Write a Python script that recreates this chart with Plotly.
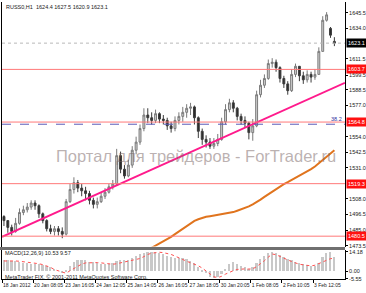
import plotly.graph_objects as go

# ---------------- data ----------------
bar_idx = list(range(86))
opens = [1495,1492,1487,1484,1490,1498,1500,1502,1505,1503,
         1497,1492,1486,1484,1486,1484,1482,1506,1515,1520,
         1516,1514,1512,1507,1504,1506,1510,1513,1517,1519,
         1540,1530,1525,1533,1544,1550,1560,1570,1568,1566,
         1571,1567,1566,1562,1560,1566,1569,1572,1575,1576,
         1568,1558,1552,1550,1547,1549,1552,1565,1574,1579,
         1575,1569,1566,1564,1557,1562,1585,1592,1597,1608,
         1609,1605,1597,1593,1588,1600,1606,1599,1596,1600,
         1598,1600,1617,1640,1634,1624.4]
highs = [1496,1492,1489,1494,1501,1503,1505,1507,1507,1504,
         1498,1493,1489,1488,1488,1487,1508,1519,1524,1522,
         1519,1517,1514,1509,1509,1513,1516,1519,1522,1545,
         1543,1533,1537,1547,1554,1563,1575,1575,1572,1574,
         1572,1570,1568,1565,1569,1572,1576,1578,1579,1577,
         1569,1560,1555,1553,1553,1556,1568,1578,1582,1581,
         1576,1571,1569,1565,1567,1588,1596,1600,1611,1612,
         1611,1606,1599,1595,1604,1608,1605,1602,1603,1602,
         1604,1620,1643,1646,1635,1627.5]
lows = [1488,1483,1481,1483,1489,1496,1498,1500,1500,1494,
        1490,1484,1482,1481,1481,1479,1481,1505,1512,1513,
        1510,1507,1504,1501,1501,1505,1508,1512,1515,1518,
        1527,1523,1524,1531,1541,1548,1558,1564,1563,1564,
        1564,1563,1559,1557,1558,1563,1565,1568,1570,1563,
        1553,1548,1546,1545,1545,1547,1551,1563,1572,1572,
        1566,1563,1561,1552,1551,1561,1583,1590,1596,1605,
        1602,1594,1590,1585,1587,1598,1595,1593,1594,1594,
        1596,1600,1617,1639,1627,1620.9]
closes = [1492,1487,1484,1490,1498,1500,1502,1505,1503,1497,
          1492,1486,1484,1486,1484,1482,1506,1515,1520,1516,
          1514,1512,1507,1504,1506,1510,1513,1517,1519,1540,
          1530,1525,1533,1544,1550,1560,1570,1568,1566,1571,
          1567,1566,1562,1560,1566,1569,1572,1575,1576,1568,
          1558,1552,1550,1547,1549,1552,1565,1574,1579,1575,
          1569,1566,1564,1557,1562,1585,1592,1597,1608,1609,
          1605,1597,1593,1588,1600,1606,1599,1596,1600,1598,
          1600,1617,1640,1644,1629,1623.1]

ma_start = 37
ma_values = [1468,1472,1473.5,1475,1476.8,1478.5,1480,1482,1484,1486,
             1488,1490,1491.8,1493,1494,1494.8,1495.3,1495.8,1496.3,1496.8,
             1497.2,1497.6,1498.3,1499.3,1500.3,1501.3,1502.5,1504,1505.5,1507.5,
             1509.5,1511.5,1513.5,1515.5,1517.5,1519,1520.5,1522,1523.5,1525,
             1526.5,1528,1530,1532,1534.5,1537,1539.5,1542,1544]

macd_main = [8.0,8.2,7.8,7.2,6.6, 6.0,6.0,5.5,5.5,5.0,4.5,4.0,
             3.0,1.5,0.0,-1.0, 1.0,4.0,6.5, 8.0,8.5,8.0,7.0,6.5,6.0,
             5.5,5.0,5.0,6.0,7.5,8.0, 8.0,8.5,9.5,11.0,12.5,
             13.5,14.2,14.0,13.8,13.3, 12.5,11.5,10.5,10.0,9.5,
             9.5,9.0,7.5,6.0,3.5, 1.0,-1.5,-4.0,-5.0,-4.5,-2.0,
             2.0,5.0,6.5,5.5,4.0, 3.0,2.0,3.0,6.0,9.0,
             11.0,13.5,14.2,13.5,12.0, 10.5,9.0,8.0,7.0,6.0,5.0,4.5,
             4.0,4.0,6.0, 10.5,13.5,13.8,10.53]
macd_signal = [7.6,7.7,7.7,7.6,7.4,7.1,6.8,6.5,6.2,5.6,
               4.9,4.0,2.9,1.3,0.3,-0.8,-1.4,0.5,2.3,3.9,
               5.3,6.2,6.4,6.4,6.4,6.2,5.8,5.4,5.2,5.6,
               6.2,6.9,7.4,8.0,8.7,9.4,10.8,12.4,13.3,13.9,
               14.0,13.7,13.1,12.4,11.2,9.8,8.5,7.4,6.3,5.2,
               4.1,2.4,0.3,-1.9,-4.0,-4.6,-3.6,-2.0,-0.6,0.5,
               1.4,1.8,1.8,1.7,1.8,3.5,5.5,7.8,10.4,12.7,
               12.2,10.8,9.6,8.4,7.2,6.0,5.2,4.8,4.4,4.0,
               4.5,5.6,6.7,8.0,9.3,9.57]

trend_x = [-0.5, 87.7]
trend_y = [1480.0, 1593.8]

level_prices = [1603.7, 1564.8, 1519.3, 1480.5]
fibo_level = 1563.2
fibo_label = "38.2"
bid_price = 1623.1

price_ticks = [1645.5, 1634.0, 1611.5, 1599.5, 1588.5, 1577.0, 1554.0,
               1542.5, 1531.0, 1508.0, 1496.5, 1485.0, 1473.5]
macd_ticks = [14.18, 0.0, -5.55]
macd_tick_text = ["14.18", "0.00", "-5.55"]

time_tick_pos = [-0.5, 7.5, 15.5, 23.5, 31.5, 39.5, 47.5, 55.5, 63.5, 71.5, 79.5]
time_tick_text = ["18 Jan 2012", "20 Jan 08:05", "23 Jan 16:05", "24 Jan 12:05",
                  "25 Jan 14:05", "26 Jan 16:05", "27 Jan 18:05", "30 Jan 20:05",
                  "1 Feb 08:05", "2 Feb 10:05", "3 Feb 12:05"]

title_text = "RUSS0,H1  1624.4 1627.5 1620.9 1623.1"
macd_text = "MACD(12,26,9) 10.53 9.57"
copyright_text = "MetaTrader FIX, © 2001-2011 MetaQuotes Software Corp."
watermark_text = "Портал для трейдеров - ForTrader.ru"

# ---------------- layout constants ----------------
W, H = 366, 293
XL, XR = 2 / W, 345 / W
def py(px):
    return 1 - px / H

FONT = "Liberation Sans, Arial, sans-serif"
TXT = "#202020"

fig = go.Figure()

fig.add_trace(go.Candlestick(
    x=bar_idx, open=opens, high=highs, low=lows, close=closes,
    xaxis="x", yaxis="y", whiskerwidth=0,
    increasing=dict(line=dict(color="#7a7a7a", width=1), fillcolor="#d2d2d2"),
    decreasing=dict(line=dict(color="#3c3c3c", width=1), fillcolor="#2a2a2a"),
    showlegend=False, hoverinfo="skip"))

fig.add_trace(go.Scatter(
    x=bar_idx[ma_start:], y=ma_values, mode="lines", xaxis="x", yaxis="y",
    line=dict(color="#e0741e", width=2), showlegend=False, hoverinfo="skip"))

fig.add_trace(go.Scatter(
    x=trend_x, y=trend_y, mode="lines", xaxis="x", yaxis="y",
    line=dict(color="#ff1a8c", width=2), showlegend=False, hoverinfo="skip"))

fig.add_trace(go.Bar(
    x=bar_idx, y=macd_main, xaxis="x2", yaxis="y2", width=0.45,
    marker=dict(color="#c8c8c8", line=dict(width=0)), showlegend=False, hoverinfo="skip"))

fig.add_trace(go.Scatter(
    x=bar_idx, y=macd_signal, mode="lines", xaxis="x2", yaxis="y2",
    line=dict(color="#ff5050", width=1, dash="dot"), showlegend=False, hoverinfo="skip"))

shapes = []
for lv in level_prices:
    shapes.append(dict(type="line", xref="paper", yref="y", x0=XL, x1=XR, y0=lv, y1=lv,
                       line=dict(color="#ff7878", width=1)))
shapes.append(dict(type="line", xref="paper", yref="y", x0=XL, x1=XR, y0=fibo_level, y1=fibo_level,
                   line=dict(color="#5a5ab8", width=1, dash="dash")))
shapes.append(dict(type="line", xref="paper", yref="y", x0=XL, x1=XR, y0=bid_price, y1=bid_price,
                   line=dict(color="#b8b8b8", width=1, dash="dot")))
shapes.append(dict(type="rect", xref="paper", yref="paper", x0=0, x1=XR,
                   y0=py(252.5), y1=py(249.5), fillcolor="#707070", line=dict(width=0)))

annotations = []
annotations.append(dict(xref="paper", yref="y", x=346 / W, y=bid_price, xanchor="left",
                        yanchor="middle", text=f"{bid_price:.1f}", showarrow=False,
                        bgcolor="#000000", borderpad=1,
                        font=dict(family=FONT, size=5.5, color="#ffffff")))
for lv in level_prices:
    annotations.append(dict(xref="paper", yref="y", x=346 / W, y=lv, xanchor="left",
                            yanchor="middle", text=f"{lv:.1f}", showarrow=False,
                            bgcolor="#ff1010", borderpad=1,
                            font=dict(family=FONT, size=5.5, color="#ffffff")))
annotations.append(dict(xref="paper", yref="y", x=344 / W, y=fibo_level, xanchor="right",
                        yanchor="bottom", text=fibo_label, showarrow=False,
                        font=dict(family=FONT, size=5.5, color="#3030a0")))
annotations.append(dict(xref="paper", yref="paper", x=4 / W, y=py(6), xanchor="left",
                        yanchor="middle", text=title_text, showarrow=False,
                        font=dict(family=FONT, size=5.5, color=TXT)))
annotations.append(dict(xref="paper", yref="paper", x=3 / W, y=py(255.5), xanchor="left",
                        yanchor="middle", text=macd_text, showarrow=False,
                        font=dict(family=FONT, size=5.5, color=TXT)))
annotations.append(dict(xref="paper", yref="paper", x=3 / W, y=py(280), xanchor="left",
                        yanchor="middle", text=copyright_text, showarrow=False,
                        font=dict(family=FONT, size=5.5, color=TXT)))
annotations.append(dict(xref="paper", yref="paper", x=196 / W, y=py(157), xanchor="center",
                        yanchor="middle", text=watermark_text, showarrow=False,
                        font=dict(family=FONT, size=16.5, color="rgba(120,100,100,0.5)")))

axis_common = dict(showgrid=False, zeroline=False)
fig.update_layout(
    width=W, height=H, margin=dict(l=0, r=0, t=0, b=0),
    paper_bgcolor="white", plot_bgcolor="white", showlegend=False,
    bargap=0,
    xaxis=dict(domain=[XL, XR], anchor="y", range=[-0.5, 87.73], showticklabels=False,
               ticks="", showline=False, rangeslider=dict(visible=False), matches="x2",
               **axis_common),
    xaxis2=dict(domain=[XL, XR], anchor="y2", range=[-0.5, 87.73],
                tickmode="array", tickvals=time_tick_pos, ticktext=time_tick_text,
                ticks="outside", ticklen=3, tickcolor="#000000", tickwidth=1,
                ticklabelposition="outside right", tickangle=0, ticklabelstandoff=1,
                tickfont=dict(family=FONT, size=5, color=TXT),
                showline=True, linecolor="#000000", linewidth=1, **axis_common),
    yaxis=dict(domain=[py(249), py(1)], anchor="x", side="right", range=[1472.8, 1653.5],
               tickmode="array", tickvals=price_ticks, ticktext=[f"{v:.1f}" for v in price_ticks],
               ticks="outside", ticklen=2, tickcolor="#000000",
               tickfont=dict(family=FONT, size=5.5, color=TXT),
               showline=True, mirror=True, linecolor="#000000", linewidth=1, **axis_common),
    yaxis2=dict(domain=[py(282), py(252.5)], anchor="x2", side="right", range=[-5.7, 15.6],
                tickmode="array", tickvals=macd_ticks, ticktext=macd_tick_text,
                ticks="outside", ticklen=2, tickcolor="#000000",
                tickfont=dict(family=FONT, size=5.5, color=TXT),
                showline=True, mirror=True, linecolor="#000000", linewidth=1, **axis_common),
    shapes=shapes, annotations=annotations,
)

fig.write_html("out.html")
